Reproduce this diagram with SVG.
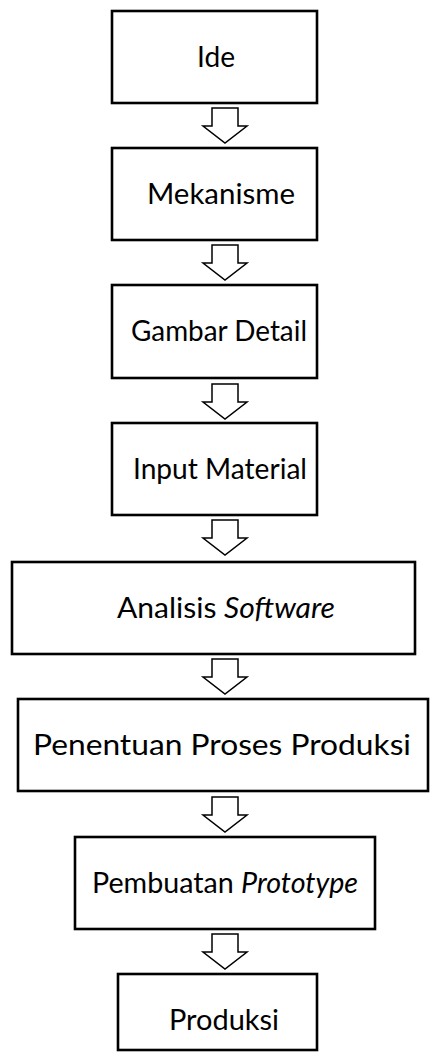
<svg xmlns="http://www.w3.org/2000/svg" width="430" height="1058" viewBox="0 0 430 1058">
  <style>
    .box { fill: #ffffff; stroke: #000000; stroke-width: 2.6; }
    .lbl { font-family: Lato, "Open Sans", "Liberation Sans", sans-serif; font-size: 28px; fill: #000000; text-anchor: middle; }
    .it { font-style: italic; }
    .arr { fill: #ffffff; stroke: #000000; stroke-width: 1.5; stroke-linejoin: miter; }
  </style>
  <defs>
    <!-- hollow down arrow, origin at the top of the stem centre line -->
    <path id="down" d="M-13,0 H13 V18 H22 L0,35 L-22,18 H-13 Z"/>
  </defs>
  <rect width="430" height="1058" fill="#ffffff"/>

  <g id="n1">
    <rect class="box" x="112" y="11" width="205" height="92"/>
    <text class="lbl" x="216" y="67" textLength="38" lengthAdjust="spacingAndGlyphs">Ide</text>
  </g>
  <g id="n2">
    <rect class="box" x="112" y="148" width="205" height="92"/>
    <text class="lbl" x="221" y="204" textLength="148" lengthAdjust="spacingAndGlyphs">Mekanisme</text>
  </g>
  <g id="n3">
    <rect class="box" x="112" y="285" width="205" height="93"/>
    <text class="lbl" x="219" y="341" textLength="176" lengthAdjust="spacingAndGlyphs">Gambar Detail</text>
  </g>
  <g id="n4">
    <rect class="box" x="112" y="423" width="205" height="92"/>
    <text class="lbl" x="220" y="479" textLength="174" lengthAdjust="spacingAndGlyphs">Input Material</text>
  </g>
  <g id="n5">
    <rect class="box" x="12" y="562" width="403" height="92"/>
    <text class="lbl" x="226" y="618" textLength="218" lengthAdjust="spacingAndGlyphs">Analisis <tspan class="it">Software</tspan></text>
  </g>
  <g id="n6">
    <rect class="box" x="18" y="699" width="410" height="92"/>
    <text class="lbl" x="222" y="755" textLength="378" lengthAdjust="spacingAndGlyphs">Penentuan Proses Produksi</text>
  </g>
  <g id="n7">
    <rect class="box" x="75" y="837" width="300" height="92"/>
    <text class="lbl" x="225" y="893" textLength="266" lengthAdjust="spacingAndGlyphs">Pembuatan <tspan class="it">Prototype</tspan></text>
  </g>
  <g id="n8">
    <rect class="box" x="118" y="974" width="199" height="76"/>
    <text class="lbl" x="224" y="1030" textLength="110" lengthAdjust="spacingAndGlyphs">Produksi</text>
  </g>

  <g id="connectors">
    <use href="#down" class="arr" x="225" y="108"/>
    <use href="#down" class="arr" x="225" y="245"/>
    <use href="#down" class="arr" x="225" y="384"/>
    <use href="#down" class="arr" x="225" y="520"/>
    <use href="#down" class="arr" x="225" y="659"/>
    <use href="#down" class="arr" x="225" y="797"/>
    <use href="#down" class="arr" x="225" y="934"/>
  </g>
</svg>
